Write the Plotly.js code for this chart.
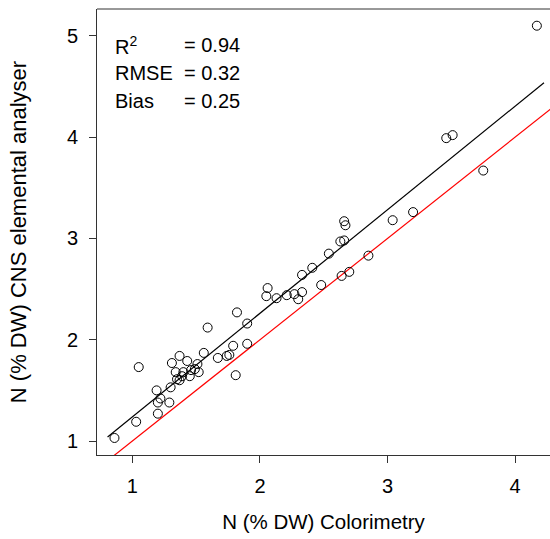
<!DOCTYPE html>
<html>
<head>
<meta charset="utf-8">
<script src="https://cdn.plot.ly/plotly-3.0.1.min.js"></script>
<style>html,body{margin:0;padding:0;background:#fff;}#chart{width:550px;height:539px;}</style>
</head>
<body>
<div id="chart"></div>
<script>
// Observed data (N % DW)
var colorimetry = [0.86,1.03,1.05,1.19,1.22,1.20,1.20,1.29,1.30,1.31,1.37,1.43,1.34,1.35,1.37,1.39,1.40,1.45,1.46,1.49,1.51,1.52,1.56,1.59,1.67,1.74,1.76,1.79,1.81,1.82,1.90,1.90,2.05,2.06,2.13,2.21,2.27,2.30,2.33,2.33,2.41,2.48,2.54,2.64,2.63,2.66,2.66,2.67,2.70,2.85,3.04,3.20,3.46,3.51,3.75,4.17];
var cnsAnalyser = [1.03,1.19,1.73,1.50,1.42,1.38,1.27,1.38,1.53,1.77,1.84,1.79,1.68,1.61,1.60,1.64,1.68,1.64,1.70,1.71,1.76,1.68,1.87,2.12,1.82,1.84,1.85,1.94,1.65,2.27,2.16,1.96,2.43,2.51,2.41,2.44,2.45,2.40,2.47,2.64,2.71,2.54,2.85,2.63,2.97,2.98,3.17,3.13,2.67,2.83,3.18,3.26,3.99,4.02,3.67,5.10];

// Regression line end points
var fitX = [0.806, 4.226];
var fitY = [1.04, 4.537];

// 1:1 line
var oneX = [0.70, 4.30];
var oneY = [0.70, 4.30];

// Tick values
var xTicks = [1, 2, 3, 4];
var yTicks = [1, 2, 3, 4, 5];

// Statistics text
var statLabels = ['R<sup>2</sup>', 'RMSE', 'Bias'];
var statValues = ['= 0.94', '= 0.32', '= 0.25'];

var FONT = 'Liberation Sans, Arial, sans-serif';

var traces = [
  {x: oneX, y: oneY, mode: 'lines', line: {color: '#ff0000', width: 1.2}, hoverinfo: 'skip'},
  {x: fitX, y: fitY, mode: 'lines', line: {color: '#000000', width: 1.2}, hoverinfo: 'skip'},
  {x: colorimetry, y: cnsAnalyser, mode: 'markers', cliponaxis: true,
   marker: {symbol: 'circle-open', size: 9, color: '#000000', line: {width: 1, color: '#000000'}}}
];

var statY = [4.909, 4.633, 4.356];
var annotations = [];
for (var i = 0; i < statLabels.length; i++) {
  annotations.push({x: 0.849, y: statY[i], xref: 'x', yref: 'y', text: statLabels[i], showarrow: false,
    xanchor: 'left', yanchor: 'middle', font: {family: FONT, size: 20, color: '#000'}});
  annotations.push({x: 1.389, y: statY[i], xref: 'x', yref: 'y', text: statValues[i], showarrow: false,
    xanchor: 'left', yanchor: 'middle', font: {family: FONT, size: 20, color: '#000'}});
}

var layout = {
  width: 550, height: 539,
  margin: {l: 97, r: 0, t: 9, b: 84, pad: 0},
  paper_bgcolor: '#ffffff', plot_bgcolor: '#ffffff',
  showlegend: false,
  font: {family: FONT, size: 20, color: '#000'},
  xaxis: {
    range: [0.723, 4.273], tickvals: xTicks, ticktext: xTicks.map(String),
    ticks: 'outside', ticklen: 7, tickwidth: 1, tickcolor: '#333',
    showline: true, linecolor: '#333', linewidth: 1, showgrid: false, zeroline: false,
    tickfont: {family: FONT, size: 20, color: '#000'}, ticklabelstandoff: 6,
    title: {text: 'N (% DW) Colorimetry', font: {family: FONT, size: 20.5, color: '#000'}, standoff: 18},
    automargin: false
  },
  yaxis: {
    range: [0.862, 5.265], tickvals: yTicks, ticktext: yTicks.map(String),
    ticks: 'outside', ticklen: 7, tickwidth: 1, tickcolor: '#333',
    showline: true, linecolor: '#333', linewidth: 1, showgrid: false, zeroline: false,
    tickfont: {family: FONT, size: 20, color: '#000'}, ticklabelstandoff: 7,
    title: {text: 'N (% DW) CNS elemental analyser', font: {family: FONT, size: 22, color: '#000'}, standoff: 34},
    automargin: false
  },
  shapes: [
    {type: 'line', xref: 'paper', yref: 'paper', x0: 0, x1: 1.01, y0: 1, y1: 1, line: {color: '#333', width: 1}}
  ],
  annotations: annotations
};

Plotly.newPlot('chart', traces, layout, {displayModeBar: false, staticPlot: true});
</script>
</body>
</html>
